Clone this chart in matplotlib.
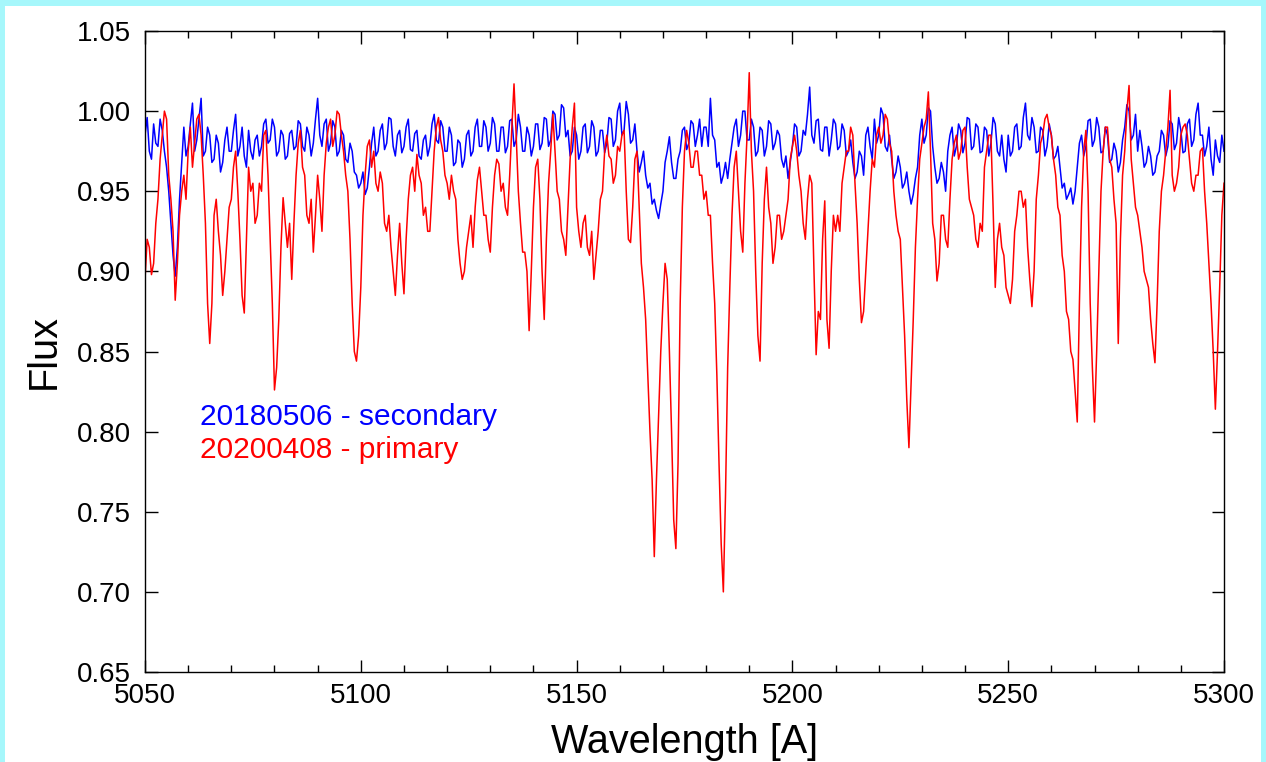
import matplotlib
matplotlib.use('Agg')
import matplotlib.pyplot as plt
from matplotlib.patches import Rectangle
from matplotlib.ticker import MultipleLocator, FormatStrFormatter
import numpy as np

# wavelength grid, 0.5 A steps, 5050..5300
wave_start, wave_stop, wave_step = 5050, 5300, 0.5

# 20180506 - secondary (blue), one row = 10 A
flux_secondary = [
    0.985, 0.996, 0.975, 0.970, 0.992, 0.980, 0.978, 0.995, 0.988, 0.975, 0.965, 0.950, 0.930, 0.910, 0.897, 0.915, 0.945, 0.968, 0.990, 0.972,
    0.978, 0.992, 1.005, 0.975, 0.982, 0.995, 1.008, 0.972, 0.975, 0.990, 0.985, 0.968, 0.970, 0.985, 0.980, 0.962, 0.968, 0.982, 0.990, 0.975,
    0.975, 0.988, 0.998, 0.972, 0.978, 0.990, 0.972, 0.965, 0.988, 0.975, 0.970, 0.982, 0.985, 0.972, 0.978, 0.992, 0.995, 0.980, 0.982, 0.995,
    0.990, 0.972, 0.975, 0.988, 0.985, 0.970, 0.972, 0.986, 0.988, 0.976, 0.978, 0.994, 0.992, 0.978, 0.975, 0.990, 0.985, 0.972, 0.980, 0.995,
    1.008, 0.985, 0.978, 0.992, 0.995, 0.975, 0.980, 0.994, 0.990, 0.972, 0.975, 0.988, 0.985, 0.970, 0.968, 0.980, 0.975, 0.962, 0.960, 0.952,
    0.955, 0.962, 0.948, 0.952, 0.965, 0.980, 0.990, 0.972, 0.975, 0.988, 0.992, 0.976, 0.980, 0.996, 0.995, 0.978, 0.972, 0.985, 0.988, 0.974,
    0.978, 0.990, 0.995, 0.976, 0.975, 0.986, 0.988, 0.972, 0.970, 0.982, 0.985, 0.972, 0.978, 0.992, 0.998, 0.982, 0.980, 0.994, 0.990, 0.975,
    0.975, 0.990, 0.985, 0.966, 0.968, 0.982, 0.980, 0.965, 0.970, 0.985, 0.988, 0.972, 0.975, 0.990, 0.995, 0.978, 0.978, 0.994, 0.990, 0.975,
    0.980, 0.996, 0.992, 0.975, 0.975, 0.990, 0.990, 0.974, 0.978, 0.994, 0.995, 0.978, 0.982, 0.998, 0.990, 0.975, 0.975, 0.990, 0.985, 0.972,
    0.978, 0.992, 0.992, 0.976, 0.980, 0.996, 0.995, 0.978, 0.982, 1.000, 0.998, 0.982, 0.985, 1.004, 1.002, 0.984, 0.988, 0.972, 0.975, 0.990,
    0.985, 0.970, 0.975, 0.990, 0.992, 0.974, 0.978, 0.994, 0.990, 0.972, 0.975, 0.988, 0.988, 0.974, 0.980, 0.996, 0.995, 0.978, 0.982, 1.000,
    1.005, 0.985, 0.988, 1.006, 0.998, 0.980, 0.982, 0.992, 0.975, 0.962, 0.968, 0.975, 0.960, 0.952, 0.955, 0.942, 0.945, 0.938, 0.933, 0.942,
    0.950, 0.968, 0.975, 0.984, 0.968, 0.958, 0.958, 0.970, 0.975, 0.988, 0.990, 0.976, 0.980, 0.994, 0.992, 0.978, 0.985, 0.995, 0.978, 0.990,
    0.990, 0.978, 1.008, 0.985, 0.982, 0.965, 0.968, 0.955, 0.960, 0.968, 0.958, 0.970, 0.980, 0.990, 0.995, 0.978, 0.985, 1.000, 1.000, 0.982,
    0.982, 0.995, 0.990, 0.972, 0.975, 0.990, 0.988, 0.972, 0.978, 0.994, 0.992, 0.976, 0.980, 0.988, 0.985, 0.970, 0.965, 0.972, 0.958, 0.968,
    0.978, 0.992, 0.990, 0.972, 0.975, 0.988, 0.985, 0.998, 1.015, 0.985, 0.980, 0.994, 0.995, 0.976, 0.975, 0.990, 0.990, 0.972, 0.982, 0.995,
    0.992, 0.976, 0.978, 0.992, 0.988, 0.972, 0.975, 0.982, 0.968, 0.958, 0.962, 0.975, 0.972, 0.960, 0.985, 0.990, 0.978, 0.970, 0.995, 0.980,
    0.985, 1.002, 0.998, 0.978, 0.975, 0.985, 0.970, 0.958, 0.962, 0.972, 0.965, 0.952, 0.955, 0.962, 0.950, 0.942, 0.948, 0.958, 0.965, 0.985,
    0.995, 0.980, 0.985, 1.002, 1.000, 0.978, 0.965, 0.955, 0.958, 0.968, 0.962, 0.950, 0.975, 0.985, 0.990, 0.972, 0.978, 0.992, 0.988, 0.974,
    0.980, 0.996, 0.995, 0.976, 0.978, 0.992, 0.990, 0.974, 0.975, 0.990, 0.988, 0.972, 0.980, 0.996, 0.992, 0.975, 0.972, 0.985, 0.970, 0.962,
    0.985, 0.972, 0.975, 0.990, 0.992, 0.976, 0.978, 0.996, 1.005, 0.985, 0.982, 0.996, 0.990, 0.974, 0.975, 0.990, 0.988, 0.972, 0.978, 0.992,
    0.985, 0.970, 0.972, 0.978, 0.965, 0.952, 0.955, 0.945, 0.948, 0.952, 0.942, 0.950, 0.965, 0.980, 0.985, 0.972, 0.978, 0.994, 0.995, 0.978,
    0.982, 0.996, 0.990, 0.974, 0.975, 0.990, 0.985, 0.968, 0.970, 0.980, 0.975, 0.962, 0.968, 0.982, 0.990, 1.004, 1.000, 0.982, 0.985, 0.998,
    0.975, 0.988, 0.978, 0.965, 0.968, 0.978, 0.972, 0.960, 0.962, 0.972, 0.975, 0.988, 0.985, 0.972, 0.978, 0.994, 0.992, 0.976, 0.980, 0.996,
    0.988, 0.974, 0.975, 0.992, 0.995, 0.978, 0.982, 0.998, 1.005, 0.985, 0.985, 0.972, 0.978, 0.990, 0.970, 0.960, 0.982, 0.972, 0.968, 0.985,
    0.975,
]

# 20200408 - primary (red), one row = 10 A
flux_primary = [
    0.895, 0.920, 0.915, 0.898, 0.905, 0.930, 0.945, 0.970, 0.985, 1.000, 0.995, 0.960, 0.945, 0.925, 0.882, 0.905, 0.935, 0.950, 0.960, 0.945,
    0.975, 0.990, 0.965, 0.980, 0.995, 0.998, 0.985, 0.960, 0.930, 0.880, 0.855, 0.880, 0.935, 0.945, 0.925, 0.910, 0.885, 0.900, 0.920, 0.940,
    0.945, 0.965, 0.975, 0.950, 0.920, 0.885, 0.874, 0.920, 0.965, 0.950, 0.955, 0.930, 0.935, 0.955, 0.950, 0.985, 0.988, 0.960, 0.920, 0.880,
    0.826, 0.840, 0.870, 0.915, 0.946, 0.930, 0.915, 0.930, 0.895, 0.930, 0.960, 0.980, 0.988, 0.965, 0.960, 0.935, 0.930, 0.945, 0.912, 0.935,
    0.960, 0.945, 0.925, 0.960, 0.980, 0.990, 0.995, 0.978, 0.985, 1.000, 0.998, 0.985, 0.975, 0.960, 0.950, 0.920, 0.880, 0.850, 0.844, 0.860,
    0.890, 0.935, 0.960, 0.978, 0.982, 0.965, 0.975, 0.955, 0.950, 0.962, 0.955, 0.930, 0.925, 0.935, 0.915, 0.900, 0.885, 0.910, 0.930, 0.905,
    0.886, 0.920, 0.945, 0.960, 0.965, 0.950, 0.973, 0.960, 0.955, 0.935, 0.940, 0.925, 0.925, 0.950, 0.975, 0.990, 0.996, 0.982, 0.975, 0.960,
    0.955, 0.945, 0.960, 0.950, 0.945, 0.920, 0.905, 0.895, 0.900, 0.915, 0.925, 0.935, 0.915, 0.940, 0.957, 0.965, 0.950, 0.935, 0.935, 0.920,
    0.912, 0.940, 0.960, 0.970, 0.967, 0.950, 0.955, 0.940, 0.935, 0.960, 0.990, 1.017, 0.985, 0.950, 0.930, 0.912, 0.912, 0.900, 0.863, 0.900,
    0.940, 0.965, 0.970, 0.945, 0.900, 0.870, 0.920, 0.955, 0.975, 0.998, 0.975, 0.950, 0.945, 0.925, 0.920, 0.910, 0.940, 0.970, 0.990, 1.005,
    0.940, 0.925, 0.915, 0.930, 0.935, 0.915, 0.910, 0.925, 0.895, 0.910, 0.925, 0.945, 0.950, 0.975, 0.985, 0.972, 0.970, 0.955, 0.960, 0.978,
    0.975, 0.985, 0.988, 0.950, 0.920, 0.918, 0.940, 0.970, 0.975, 0.940, 0.905, 0.890, 0.870, 0.835, 0.800, 0.770, 0.722, 0.770, 0.810, 0.850,
    0.880, 0.905, 0.895, 0.850, 0.800, 0.745, 0.727, 0.780, 0.880, 0.940, 0.975, 0.988, 0.980, 0.965, 0.965, 0.975, 0.975, 0.960, 0.960, 0.945,
    0.950, 0.935, 0.935, 0.905, 0.880, 0.835, 0.780, 0.730, 0.700, 0.760, 0.840, 0.890, 0.935, 0.965, 0.975, 0.950, 0.925, 0.912, 0.955, 0.985,
    1.024, 0.975, 0.950, 0.900, 0.860, 0.844, 0.905, 0.945, 0.965, 0.940, 0.930, 0.905, 0.915, 0.935, 0.935, 0.920, 0.925, 0.935, 0.945, 0.970,
    0.978, 0.985, 0.975, 0.960, 0.950, 0.930, 0.920, 0.945, 0.960, 0.955, 0.900, 0.848, 0.875, 0.870, 0.920, 0.944, 0.870, 0.852, 0.900, 0.935,
    0.925, 0.935, 0.925, 0.955, 0.965, 0.975, 0.975, 0.990, 0.985, 0.955, 0.930, 0.895, 0.868, 0.875, 0.900, 0.925, 0.950, 0.970, 0.965, 0.985,
    0.990, 0.980, 0.985, 0.998, 0.995, 0.980, 0.975, 0.950, 0.935, 0.925, 0.920, 0.890, 0.860, 0.820, 0.790, 0.830, 0.870, 0.915, 0.945, 0.970,
    0.980, 0.990, 0.995, 1.012, 0.975, 0.930, 0.920, 0.894, 0.905, 0.935, 0.935, 0.920, 0.915, 0.945, 0.970, 0.980, 0.985, 0.970, 0.975, 0.988,
    0.990, 0.965, 0.945, 0.940, 0.935, 0.920, 0.915, 0.930, 0.925, 0.965, 0.975, 0.985, 0.985, 0.940, 0.890, 0.920, 0.930, 0.915, 0.910, 0.890,
    0.885, 0.880, 0.895, 0.925, 0.935, 0.950, 0.950, 0.940, 0.945, 0.915, 0.895, 0.878, 0.900, 0.945, 0.960, 0.980, 0.985, 0.995, 0.998, 0.990,
    0.985, 0.970, 0.960, 0.940, 0.935, 0.910, 0.900, 0.875, 0.870, 0.850, 0.845, 0.825, 0.806, 0.880, 0.940, 0.975, 0.988, 0.950, 0.880, 0.840,
    0.806, 0.850, 0.900, 0.950, 0.975, 0.990, 0.990, 0.970, 0.965, 0.945, 0.930, 0.855, 0.920, 0.960, 0.975, 1.000, 1.016, 0.970, 0.955, 0.940,
    0.935, 0.925, 0.915, 0.900, 0.895, 0.890, 0.870, 0.855, 0.843, 0.880, 0.925, 0.950, 0.960, 0.975, 0.990, 1.013, 0.960, 0.950, 0.955, 0.965,
    0.985, 0.990, 0.992, 0.985, 0.970, 0.955, 0.950, 0.960, 0.960, 0.975, 0.977, 0.950, 0.930, 0.905, 0.880, 0.850, 0.814, 0.850, 0.890, 0.935,
    0.955,
]

wave = np.arange(wave_start, wave_stop + wave_step / 2, wave_step)

fig = plt.figure(figsize=(12.66, 7.62), dpi=100)
fig.patch.set_facecolor('#a6f7fb')
# white panel inside the cyan frame
fig.patches.append(Rectangle((5 / 1266, 0), 1256 / 1266, 756 / 762,
                             transform=fig.transFigure, facecolor='white',
                             edgecolor='none', zorder=-10))

ax = fig.add_axes([145 / 1266, 90 / 762, 1079 / 1266, 641 / 762])
ax.set_facecolor('white')
ax.plot(wave, flux_secondary, color='#0000ff', linewidth=1.1)
ax.plot(wave, flux_primary, color='#ff0000', linewidth=1.1)

ax.set_xlim(5050, 5300)
ax.set_ylim(0.65, 1.05)
ax.xaxis.set_major_locator(MultipleLocator(50))
ax.xaxis.set_minor_locator(MultipleLocator(10))
ax.yaxis.set_major_locator(MultipleLocator(0.05))
ax.yaxis.set_major_formatter(FormatStrFormatter('%.2f'))

font = 'Liberation Sans'
ax.tick_params(which='both', direction='in', top=True, right=True,
               labelsize=20, width=1)
ax.tick_params(axis='x', pad=8)
ax.tick_params(axis='y', pad=10)
ax.tick_params(which='major', length=9)
ax.tick_params(which='minor', length=5)
for lab in ax.get_xticklabels() + ax.get_yticklabels():
    lab.set_fontfamily(font)
for sp in ax.spines.values():
    sp.set_linewidth(1.0)

ax.set_xlabel('Wavelength [A]', fontsize=28.5, family=font, labelpad=10)
ax.set_ylabel('Flux', fontsize=28.5, family=font, labelpad=10)

ax.text(0.051, 0.398, '20180506 - secondary', color='#0000ff', fontsize=21.5,
        family=font, transform=ax.transAxes, va='center')
ax.text(0.051, 0.346, '20200408 - primary', color='#ff0000', fontsize=21.5,
        family=font, transform=ax.transAxes, va='center')

fig.savefig('out.png', dpi=100, facecolor=fig.get_facecolor())
